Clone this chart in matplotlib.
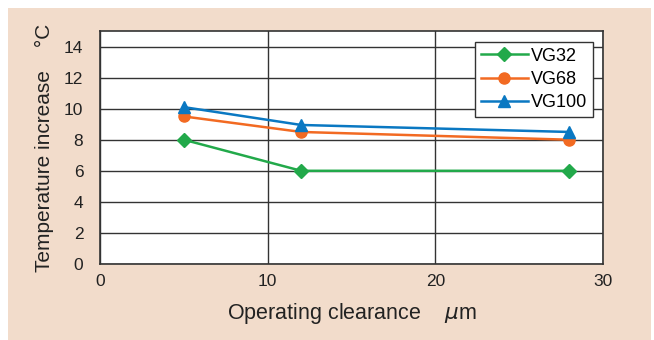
import matplotlib.pyplot as plt
from matplotlib.patches import Rectangle

plt.rcParams['font.family'] = ['Liberation Sans', 'DejaVu Sans']

clearance = [5, 12, 28]
vg32 = [8.0, 6.0, 6.0]
vg68 = [9.5, 8.5, 8.0]
vg100 = [10.1, 8.95, 8.5]

x_ticks = [0, 10, 20, 30]
y_ticks = [0, 2, 4, 6, 8, 10, 12, 14]

fig = plt.figure(figsize=(6.54, 3.40), dpi=100, facecolor='white')
# beige panel behind the chart
fig.patches.append(Rectangle((8 / 654, 0), 643 / 654, 332 / 340, transform=fig.transFigure,
                             facecolor='#f2dccb', edgecolor='none', zorder=-1))

ax = fig.add_axes([100 / 654, 1 - 264 / 340, 503 / 654, 233 / 340])
ax.set_facecolor('white')

ax.plot(clearance, vg32, color='#22a94a', marker='D', markersize=7, lw=1.8, label='VG32', zorder=3)
ax.plot(clearance, vg68, color='#f26a22', marker='o', markersize=8, lw=1.8, label='VG68', zorder=3)
ax.plot(clearance, vg100, color='#0a78c2', marker='^', markersize=8, lw=1.8, label='VG100', zorder=3)

ax.set_xlim(0, 30)
ax.set_ylim(0, 15)
ax.set_xticks(x_ticks)
ax.set_yticks(y_ticks)
ax.grid(True, color='#333333', lw=1.0)
ax.set_axisbelow(True)
ax.tick_params(length=0, labelsize=12.5, colors='#222222')
ax.tick_params(axis='y', pad=12)
ax.tick_params(axis='x', pad=7)
for s in ax.spines.values():
    s.set_color('#333333')
    s.set_linewidth(1.2)

ax.set_xlabel('Operating clearance    $\\mu$m', fontsize=15.5, color='#222222', labelpad=9)
ax.set_ylabel('Temperature increase    °C', fontsize=15, color='#222222', labelpad=7)

leg = ax.legend(loc='upper right', fontsize=13, frameon=True, fancybox=False,
                borderpad=0.3, handlelength=2.6, handletextpad=0.2, labelspacing=0.35,
                bbox_to_anchor=(0.98, 0.952), borderaxespad=0)
leg.get_frame().set_edgecolor('#333333')
leg.get_frame().set_linewidth(1.0)
leg.get_frame().set_alpha(1)

plt.savefig('out.png', dpi=100, facecolor=fig.get_facecolor())
plt.close()
